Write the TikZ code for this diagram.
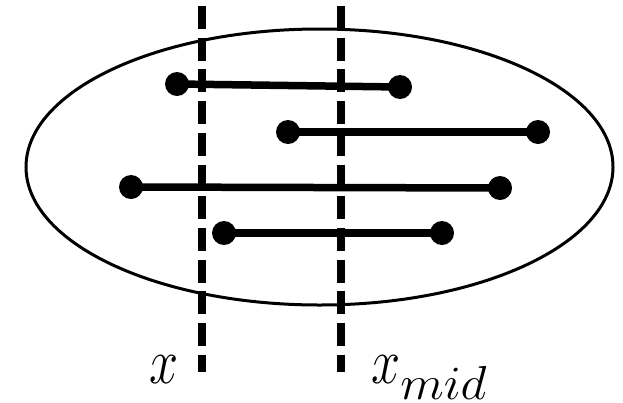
\documentclass[tikz,border=0pt]{standalone}
\usepackage{graphicx}
\usepackage{tikz}
\usepackage{xcolor}
\definecolor{InkBlack}{RGB}{0,0,0}

\begin{document}
\begin{tikzpicture}[x=1pt, y=-1pt,
    sweepline/.style={InkBlack, line width=8pt, dash pattern=on 23pt off 8.7pt},
    interval/.style={InkBlack, line width=7.5pt},
    endpt/.style={InkBlack},
    lbl/.style={inner sep=0pt, font=\Huge}]

  \useasboundingbox (0,0) rectangle (623,402);

  % --- Set boundary ---
  \draw[InkBlack, line width=3pt] (319.5,167) ellipse (293.5 and 138);

  % --- Interval end points ---
  \coordinate (a1) at (177,84);   \coordinate (b1) at (400,87);
  \coordinate (a2) at (288,132);  \coordinate (b2) at (538,132);
  \coordinate (a3) at (131,187);  \coordinate (b3) at (500,188);
  \coordinate (a4) at (224,233);  \coordinate (b4) at (442,233);

  % --- Sweep lines ---
  \coordinate (xtop) at (202,6);    \coordinate (xbot) at (202,372);
  \coordinate (mtop) at (341,6);    \coordinate (mbot) at (341,372);
  \draw[sweepline] (xtop) -- (xbot);
  \draw[sweepline] (mtop) -- (mbot);

  % --- Intervals ---
  \foreach \i in {1,...,4} {
    \draw[interval] (a\i) -- (b\i);
    \fill[endpt] (a\i) circle (12pt) (b\i) circle (12pt);
  }

  % --- Labels (main x at baseline 383, subscript at 399) ---
  \node[lbl, anchor=base] (labx) at (164,383) {\scalebox{2.1}[2.6]{$x$}};
  \node[lbl, anchor=base west] (labmid) at (371,383)
      {\scalebox{2.1}[2.6]{$x$}\raisebox{-16pt}{\scalebox{2.45}[2.3]{$\scriptstyle mid$}}};

\end{tikzpicture}
\end{document}
